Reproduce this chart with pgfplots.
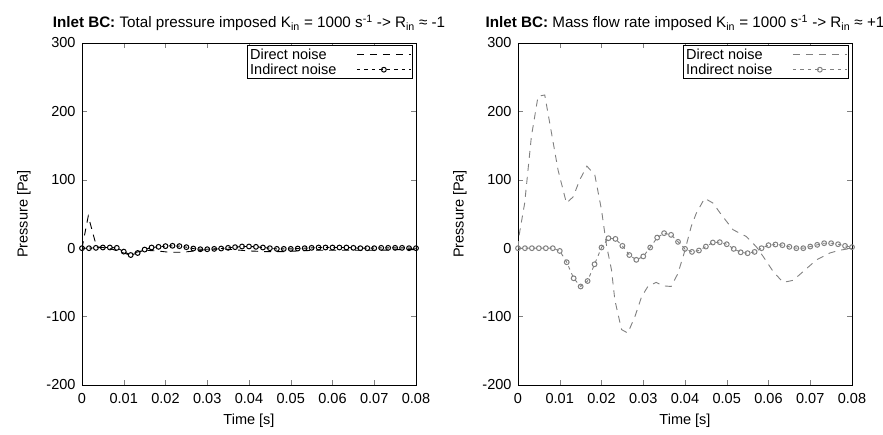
\documentclass[border=0pt]{standalone}
\usepackage{pgfplots}
\usepackage{pgfplotstable}
\pgfplotsset{compat=1.18}
\usepackage{fontspec}
\setmainfont{Liberation Sans}
\definecolor{gr}{RGB}{128,128,128}
\newcommand{\ff}{\fontsize{14.5}{16}\selectfont}
\newcommand{\ft}{\fontsize{15.2}{17}\selectfont}
\pgfplotsset{
  myax/.style={
    scale only axis, width=334pt, height=342pt,
    xmin=0, xmax=0.08, ymin=-200, ymax=300,
    xtick={0,0.01,...,0.08}, ytick={-200,-100,0,100,200,300},
    scaled x ticks=false,
    xticklabel style={/pgf/number format/fixed,/pgf/number format/precision=2},
    /pgf/number format/assume math mode=true,
    tick label style={font=\ff},
    label style={font=\ff},
    title style={font=\ft, yshift=3pt},
    xticklabel style={yshift=-5pt},
    yticklabel style={xshift=-3pt},
    axis line style={line width=0.9pt},
    major tick length=5pt,
    xlabel={Time [s]}, ylabel={Pressure [Pa]},
    xlabel style={yshift=-3pt},
    ylabel style={yshift=9pt},
    legend style={at={(rel axis cs:0.99,0.993)}, anchor=north east, draw=black, line width=0.6pt,
      inner sep=1pt, row sep=-1pt, column sep=18pt, legend cell align=left, font=\ff},
    legend plot pos=right,
    legend image code/.code={\draw[mark repeat=2,mark phase=2,#1] plot coordinates {(0cm,0cm) (0.95cm,0cm) (1.9cm,0cm)};},
  }
}
\pgfplotstableread{
t p
0 0
0.0007 22
0.0015 47
0.0026 22
0.0035 2
0.005 1
0.007 -1
0.009 -5
0.011 -9
0.013 -6
0.015 -3
0.018 -4
0.021 -6
0.024 -6
0.027 -4
0.030 -2
0.033 -1
0.036 -2
0.040 -4
0.044 -5
0.048 -5
0.052 -4
0.056 -3
0.060 -3
0.064 -3
0.068 -3
0.072 -3
0.076 -2
0.080 -2
}\leftdirect
\pgfplotstableread{
i p
0 0
1 0
2 0.5
3 1
4 1
5 0.5
6 -5
7 -10
8 -7
9 -2
10 1
11 2
12 3
13 3.5
14 3
15 1.5
16 -0.5
17 -1.5
18 -1.5
19 -1
20 -0.5
21 0.5
22 1.5
23 2.5
24 2.5
25 2
26 1
27 0
28 -1
29 -1
30 -1
31 -0.5
32 0
33 0.5
34 1
35 1
36 1
37 1
38 1
39 0.5
40 0
41 0
42 0
43 0.5
44 0.5
45 0.5
46 0.5
47 0
48 0
}\leftindirect
\pgfplotstableread{
t p
0 0
0.0003 20
0.0016 66
0.0032 163
0.0048 222
0.0064 224
0.0076 183
0.0096 114
0.0116 66
0.0132 75
0.0148 100
0.0165 120
0.0184 107
0.0200 56
0.0212 4
0.0224 -32
0.0232 -76
0.0248 -119
0.0263 -124
0.0280 -100
0.0296 -71
0.0311 -56
0.0331 -50
0.0347 -55
0.0367 -56
0.0383 -37
0.0399 -5
0.0415 32
0.0427 51
0.0447 73
0.0467 66
0.0487 49
0.0515 27
0.0547 17
0.0571 2
0.0587 -12
0.0611 -34
0.0635 -50
0.0659 -47
0.0687 -32
0.0715 -17
0.0747 -7
0.0770 -3
0.0800 0
}\rightdirect
\pgfplotstableread{
i p
0 0
1 0
2 0
3 0
4 0
5 0
6 -4
7 -20.5
8 -44
9 -56
10 -48
11 -23.5
12 1
13 14.6
14 13.6
15 3.4
16 -10
17 -17
18 -12
19 1
20 15.5
21 22
22 19.5
23 9.3
24 -1
25 -5.4
26 -3.4
27 2.4
28 8.3
29 8.8
30 5.8
31 -1
32 -6
33 -7.3
34 -5.4
35 0
36 4.4
37 5.4
38 4.4
39 2
40 0
41 0
42 2.4
43 4.9
44 7.3
45 7.3
46 5.8
47 3.4
48 1.5
}\rightindirect
\begin{document}
\begin{tikzpicture}[x=1pt,y=1pt]
\begin{axis}[myax, at={(82pt,50pt)}, anchor=south west,
  title={\textbf{Inlet BC:} Total pressure imposed K\textsubscript{in} = 1000 s\textsuperscript{-1} -> R\textsubscript{in} ≈ -1}]
\addplot[black, line width=0.9pt, dash pattern=on 7pt off 6pt] table[x=t,y=p] {\leftdirect};
\addlegendentry{Direct noise}
\addplot[black, line width=0.9pt, dash pattern=on 3.5pt off 4pt, mark=o, mark size=2.4pt, mark options={solid, line width=1pt, fill=white}] table[x expr=\thisrow{i}/600, y=p] {\leftindirect};
\addlegendentry{Indirect noise}
\end{axis}
\begin{axis}[myax, at={(518pt,50pt)}, anchor=south west,
  title={\textbf{Inlet BC:} Mass flow rate imposed K\textsubscript{in} = 1000 s\textsuperscript{-1} -> R\textsubscript{in} ≈ +1}]
\addplot[gr, line width=0.9pt, dash pattern=on 7pt off 6pt] table[x=t,y=p] {\rightdirect};
\addlegendentry{Direct noise}
\addplot[gr, line width=0.9pt, dash pattern=on 3.5pt off 4pt, mark=o, mark size=2.4pt, mark options={solid, line width=1pt, fill=white}] table[x expr=\thisrow{i}/600, y=p] {\rightindirect};
\addlegendentry{Indirect noise}
\end{axis}
\pgfresetboundingbox
\path (0,0) rectangle (883,435);
\end{tikzpicture}
\end{document}
